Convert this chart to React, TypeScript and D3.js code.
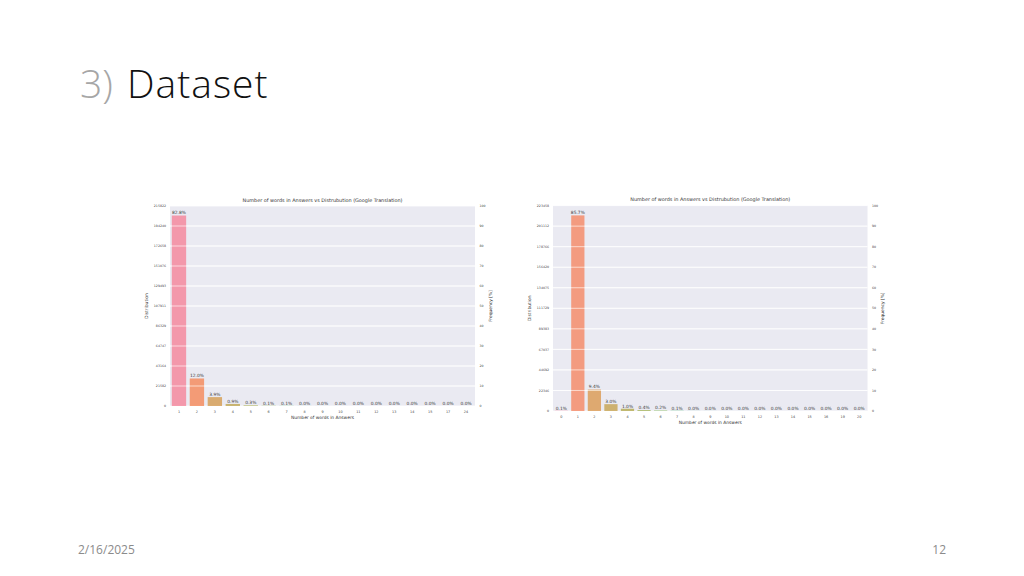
import * as d3 from "d3";

// Left chart (17 answer lengths)
const LEFT_WORDS = ["1", "2", "3", "4", "5", "6", "7", "8", "9", "10", "11", "12", "13", "14", "15", "17", "24"];
const LEFT_COUNTS = [205545, 29700, 9600, 2200, 700, 250, 150, 60, 40, 25, 15, 10, 6, 4, 3, 2, 1];
const LEFT_Y_TICKS = [0, 21582, 43164, 64747, 86329, 107911, 129493, 151076, 172658, 194240, 215822];

// Right chart (19 answer lengths)
const RIGHT_WORDS = ["0", "1", "2", "3", "4", "5", "6", "7", "8", "9", "10", "11", "12", "13", "14", "15", "16", "19", "20"];
const RIGHT_COUNTS = [250, 212817, 23340, 7450, 2480, 990, 500, 250, 80, 50, 30, 20, 12, 8, 5, 4, 3, 2, 1];
const RIGHT_Y_TICKS = [0, 22346, 44692, 67037, 89383, 111729, 134075, 156420, 178766, 201112, 223458];

const FREQ_TICKS = [0, 10, 20, 30, 40, 50, 60, 70, 80, 90, 100];

const CHART_TITLE = "Number of words in Answers vs Distrubution (Google Translation)";
const FONT = "DejaVu Sans, sans-serif";

// --- husl palette (same as seaborn's husl_palette) ---
const M = [
  [3.240969941904521, -1.537383177570093, -0.498610760293],
  [-0.96924363628087, 1.87596750150772, 0.041555057407175],
  [0.055630079696993, -0.20397695888897, 1.056971514242878],
];
const KAPPA = 903.2962962;
const EPS = 0.0088564516;

function maxChroma(L: number, H: number) {
  const hrad = (H / 360) * Math.PI * 2;
  const sub1 = Math.pow(L + 16, 3) / 1560896;
  const sub2 = sub1 > EPS ? sub1 : L / KAPPA;
  let min = Infinity;
  for (const [m1, m2, m3] of M) {
    for (const t of [0, 1]) {
      const top1 = (284517 * m1 - 94839 * m3) * sub2;
      const top2 = (838422 * m3 + 769860 * m2 + 731718 * m1) * L * sub2 - 769860 * t * L;
      const bottom = (632260 * m3 - 126452 * m2) * sub2 + 126452 * t;
      const len = top2 / bottom / (Math.sin(hrad) - (top1 / bottom) * Math.cos(hrad));
      if (len >= 0) min = Math.min(min, len);
    }
  }
  return min;
}

function husl(H: number, S: number, L: number) {
  const C = (maxChroma(L, H) / 100) * S;
  const hrad = (H / 360) * Math.PI * 2;
  const U = C * Math.cos(hrad);
  const V = C * Math.sin(hrad);
  const varU = U / (13 * L) + 0.19783000664283;
  const varV = V / (13 * L) + 0.46831999493879;
  const Y = L <= 8 ? L / KAPPA : Math.pow((L + 16) / 116, 3);
  const X = -(9 * Y * varU) / ((varU - 4) * varV - varU * varV);
  const Z = (9 * Y - 15 * varV * Y - varV * X) / (3 * varV);
  const rgb = M.map(([a, b, c]) => {
    const v = a * X + b * Y + c * Z;
    const s = v <= 0.0031308 ? 12.92 * v : 1.055 * Math.pow(v, 1 / 2.4) - 0.055;
    return Math.round(Math.max(0, Math.min(1, s)) * 255);
  });
  return d3.rgb(rgb[0], rgb[1], rgb[2]).formatHex();
}

function huslPalette(n: number) {
  return d3.range(n).map((i) => husl((((i / n) + 0.01) % 1) * 359, 0.9 * 99, 0.65 * 99));
}

interface ChartProps {
  words: string[];
  counts: number[];
  yTicks: number[];
  x0: number;
  x1: number;
  y0: number;
  y1: number;
}

function WordChart({ words, counts, yTicks, x0, x1, y0, y1 }: ChartProps) {
  const x = d3.scaleBand().domain(words).range([x0, x1]).paddingInner(0.2).paddingOuter(0.1);
  const y = d3.scaleLinear().domain([0, yTicks[yTicks.length - 1]]).range([y1, y0]);
  const yFreq = d3.scaleLinear().domain([0, 100]).range([y1, y0]);
  const total = d3.sum(counts);
  const colors = huslPalette(words.length);
  const cx = (x0 + x1) / 2;
  const cy = (y0 + y1) / 2;

  return (
    <g fontFamily={FONT}>
      <rect x={x0} y={y0} width={x1 - x0} height={y1 - y0} fill="#eaeaf2" />
      {yTicks.map((t) => (
        <line key={"g" + t} x1={x0} x2={x1} y1={y(t)} y2={y(t)} stroke="#fff" strokeWidth={0.8} />
      ))}
      {words.map((w, i) => (
        <rect
          key={"b" + w}
          x={x(w)}
          y={y(counts[i])}
          width={x.bandwidth()}
          height={y1 - y(counts[i])}
          fill={colors[i]}
          fillOpacity={0.68}
        />
      ))}
      {/* twin-axis grid drawn over the bars */}
      {FREQ_TICKS.slice(1, -1).map((t) => (
        <line key={"f" + t} x1={x0} x2={x1} y1={yFreq(t)} y2={yFreq(t)} stroke="#fff" strokeOpacity={0.75} strokeWidth={0.8} />
      ))}
      {words.map((w, i) => (
        <text
          key={"p" + w}
          x={(x(w) ?? 0) + x.bandwidth() / 2}
          y={y(counts[i]) - 1.2}
          fontSize={4.4}
          fill="#3a3a3a"
          textAnchor="middle"
        >
          {d3.format(".1f")((counts[i] / total) * 100)}%
        </text>
      ))}
      <text x={cx} y={y0 - 4.2} fontSize={4.9} fill="#333" textAnchor="middle">
        {CHART_TITLE}
      </text>
      {yTicks.map((t) => (
        <text key={"yl" + t} x={x0 - 4} y={y(t)} dy="0.35em" fontSize={3.2} fill="#444" textAnchor="end">
          {t}
        </text>
      ))}
      {FREQ_TICKS.map((t) => (
        <text key={"yr" + t} x={x1 + 4.5} y={yFreq(t)} dy="0.35em" fontSize={3.2} fill="#444">
          {t}
        </text>
      ))}
      {words.map((w) => (
        <text
          key={"xl" + w}
          x={(x(w) ?? 0) + x.bandwidth() / 2}
          y={y1 + 5.6}
          dy="0.35em"
          fontSize={3.4}
          fill="#444"
          textAnchor="middle"
        >
          {w}
        </text>
      ))}
      <text x={cx} y={y1 + 11.5} dy="0.35em" fontSize={4.4} fill="#333" textAnchor="middle">
        Number of words in Answers
      </text>
      <text
        transform={`translate(${x0 - 23.5},${cy}) rotate(-90)`}
        dy="0.35em"
        fontSize={4.4}
        fill="#333"
        textAnchor="middle"
      >
        Distribution
      </text>
      <text
        transform={`translate(${x1 + 15},${cy}) rotate(-90)`}
        dy="0.35em"
        fontSize={4.4}
        fill="#333"
        textAnchor="middle"
      >
        Frequency [%]
      </text>
    </g>
  );
}

export default function App() {
  return (
    <svg
      width={1024}
      height={576}
      style={{ position: "absolute", left: 0, top: 0, background: "#fff" }}
    >
      <rect width={1024} height={576} fill="#fff" />
      <text x={80} y={98} fontFamily="Open Sans, sans-serif" fontWeight={300} fontSize={39} fill="#a6a6a6">
        3)
      </text>
      <text x={127} y={98} fontFamily="Open Sans, sans-serif" fontWeight={300} fontSize={39} fill="#111" letterSpacing={1}>
        Dataset
      </text>

      <WordChart words={LEFT_WORDS} counts={LEFT_COUNTS} yTicks={LEFT_Y_TICKS} x0={170} x1={475} y0={206} y1={406} />
      <WordChart words={RIGHT_WORDS} counts={RIGHT_COUNTS} yTicks={RIGHT_Y_TICKS} x0={553} x1={867.5} y0={205.6} y1={411} />

      <text x={78} y={554} fontFamily="Open Sans, sans-serif" fontSize={12} fill="#8b8b8b">
        2/16/2025
      </text>
      <text x={946} y={554} fontFamily="Open Sans, sans-serif" fontSize={12} fill="#8b8b8b" textAnchor="end">
        12
      </text>
    </svg>
  );
}
